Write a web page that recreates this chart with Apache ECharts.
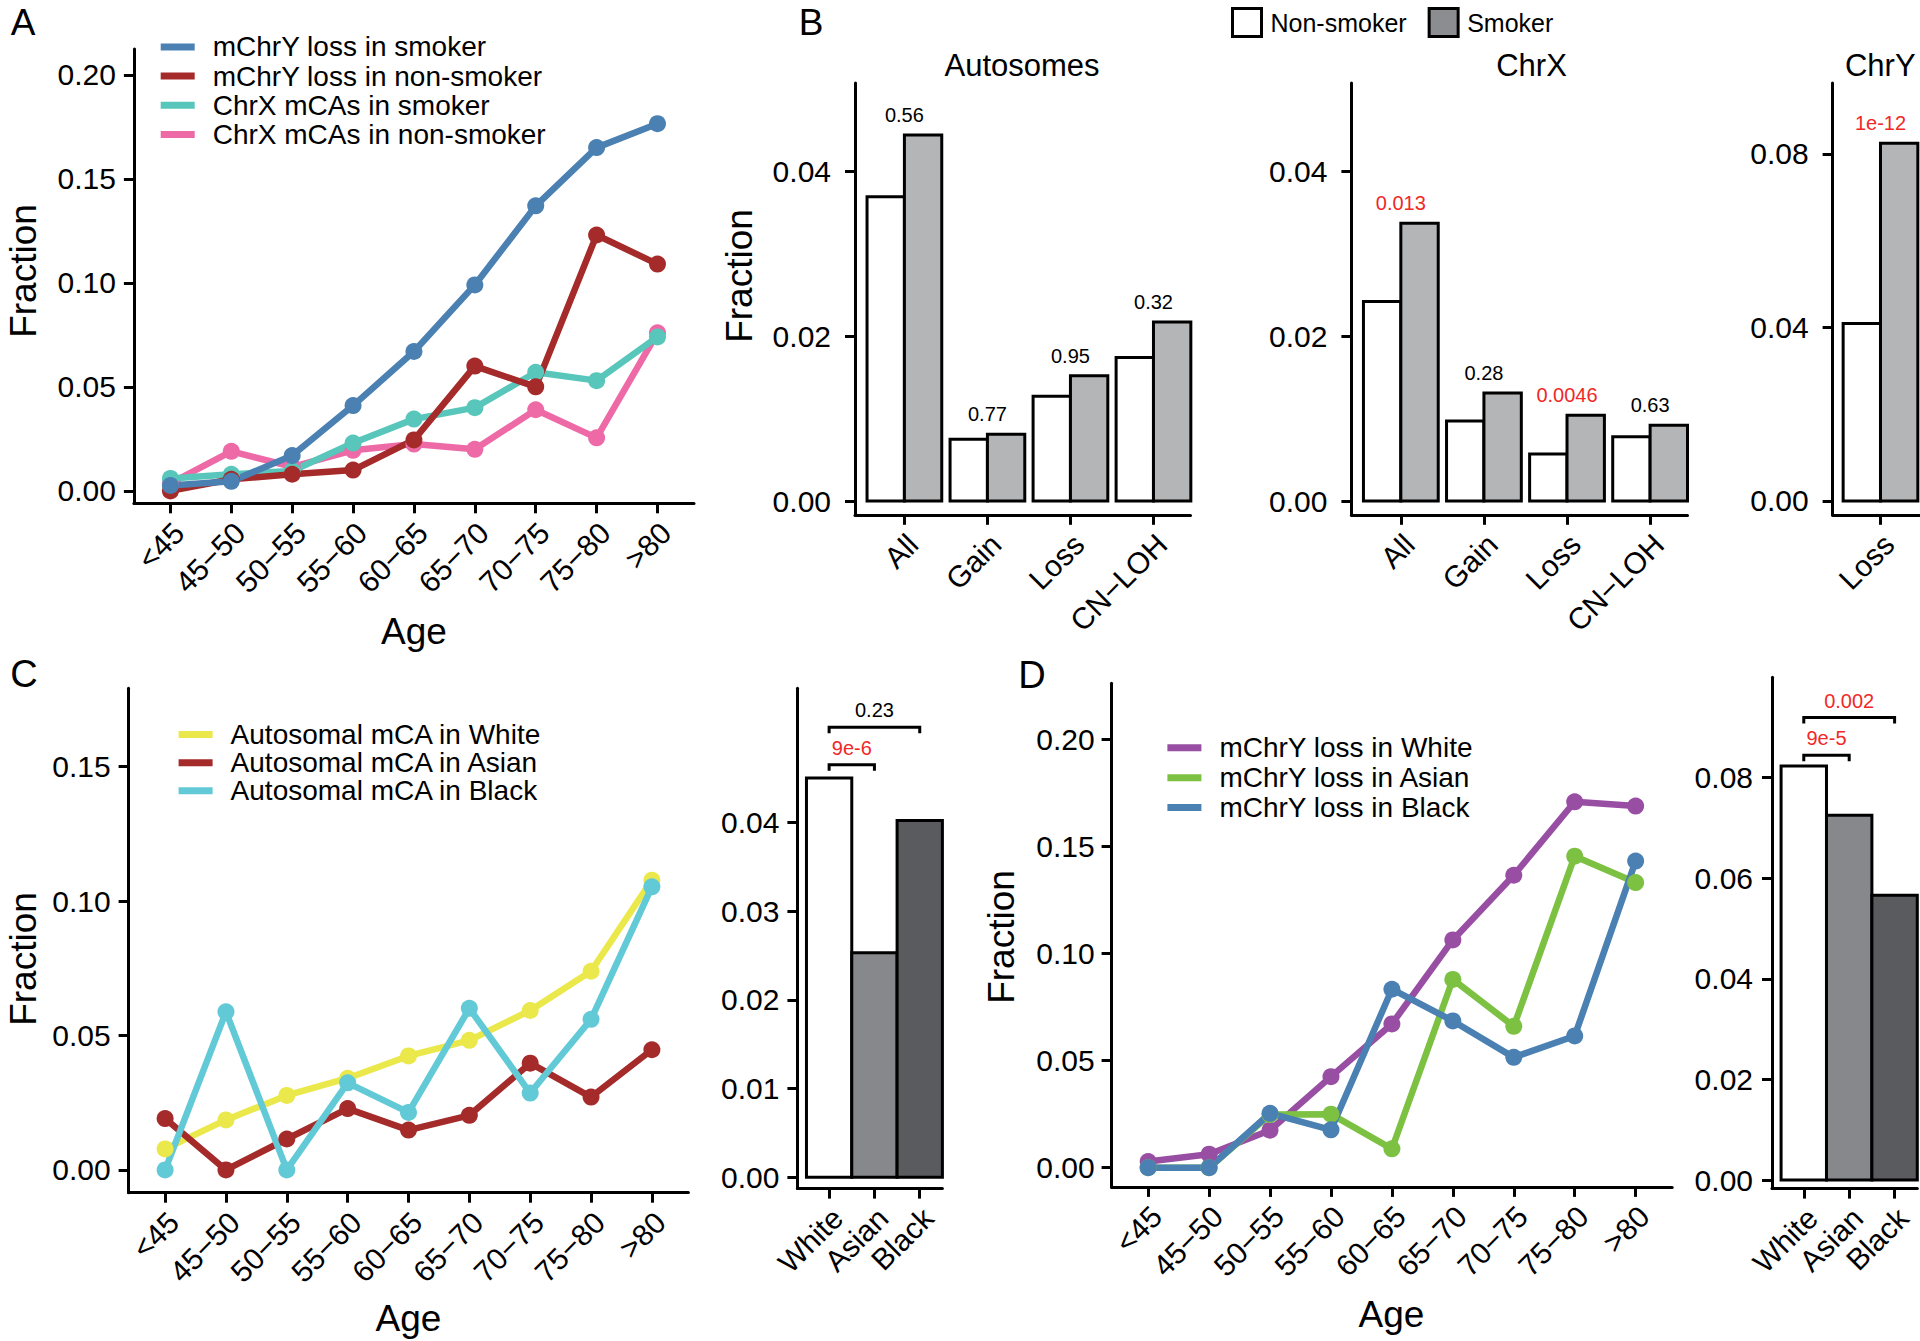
<!DOCTYPE html>
<html><head><meta charset="utf-8"><title>mCA figure</title>
<script src="https://cdn.jsdelivr.net/npm/echarts@6.0.0/dist/echarts.min.js"></script>
<style>html,body{margin:0;padding:0;background:#fff;}#c{width:1920px;height:1341px;}</style>
</head><body><div id="c"></div>
<script>
// ---------------- DATA ----------------
const ageCats = ['<45','45−50','50−55','55−60','60−65','65−70','70−75','75−80','>80'];
// Panel A
const aChrYSmoker    = [0.0026,0.0046,0.0170,0.0410,0.0670,0.0990,0.1370,0.1650,0.1765];
const aChrYNonSmoker = [0.0000,0.0056,0.0080,0.0100,0.0245,0.0600,0.0500,0.1230,0.1090];
const aChrXSmoker    = [0.0060,0.0080,0.0096,0.0230,0.0345,0.0400,0.0570,0.0530,0.0740];
const aChrXNonSmoker = [0.0036,0.0190,0.0116,0.0195,0.0225,0.0200,0.0390,0.0255,0.0760];
const aTicks = [0,0.05,0.10,0.15,0.20];
// Panel B
const bCats = ['All','Gain','Loss','CN−LOH'];
const bAutoNon = [0.0369,0.0075,0.0127,0.0174];
const bAutoSmk = [0.0444,0.0081,0.0152,0.0217];
const bAutoP   = ['0.56','0.77','0.95','0.32'];
const bXNon = [0.0242,0.0097,0.0057,0.0078];
const bXSmk = [0.0337,0.0131,0.0104,0.0092];
const bXP   = ['0.013','0.28','0.0046','0.63'];
const bYCats = ['Loss'];
const bYNon = [0.0409];
const bYSmk = [0.0824];
const bYP   = ['1e-12'];
const bTicks = [0,0.02,0.04];
const bYTicks = [0,0.04,0.08];
// Panel C
const cWhite = [0.0078,0.0186,0.0277,0.0341,0.0424,0.0482,0.0593,0.0739,0.1078];
const cAsian = [0.0191,0.0000,0.0115,0.0228,0.0148,0.0203,0.0397,0.0271,0.0447];
const cBlack = [0.0000,0.0588,0.0000,0.0324,0.0214,0.0601,0.0286,0.0560,0.1053];
const cTicks = [0,0.05,0.10,0.15];
const raceCats = ['White','Asian','Black'];
const cRaceTotals = [0.0450,0.0253,0.0402];
const cBarTicks = [0,0.01,0.02,0.03,0.04];
const cSigPairs = [[0,1],[0,2]];
const cSigLabels = ['9e-6','0.23'];
const cSigHeights = [0.0465,0.0507];
// Panel D
const dWhite = [0.0029,0.0063,0.0175,0.0425,0.0671,0.1063,0.1365,0.1708,0.1688];
const dAsian = [0.0000,0.0000,0.0248,0.0250,0.0088,0.0879,0.0660,0.1454,0.1331];
const dBlack = [0.0000,0.0000,0.0254,0.0177,0.0833,0.0685,0.0515,0.0615,0.1431];
const dTicks = [0,0.05,0.10,0.15,0.20];
const dRaceTotals = [0.0823,0.0725,0.0566];
const dBarTicks = [0,0.02,0.04,0.06,0.08];
const dSigPairs = [[0,1],[0,2]];
const dSigLabels = ['9e-5','0.002'];
const dSigHeights = [0.0844,0.0919];

// ---------------- STYLE ----------------
const FONT = '"Liberation Sans", Arial, Helvetica, sans-serif';
const RED = '#F02828';
const raceFill = ['#FFFFFF','#87888C','#5A5B5E'];
const pColor = p => (Number(p) < 0.05 ? RED : '#000');

const chart = echarts.init(document.getElementById('c'), null, {renderer:'svg', width:1920, height:1341});

const grids = [
  {left:133.9, top:49,    width:560.1, height:454.3}, // A
  {left:855,   top:83,    width:335.5, height:431.8}, // B auto
  {left:1351.4,top:83,    width:336.1, height:431.8}, // B X
  {left:1832.6,top:83,    width:87.4,  height:431.8}, // B Y
  {left:128.6, top:688.2, width:559.8, height:504.5}, // C line
  {left:797.4, top:688.3, width:145,   height:500.3}, // C bar
  {left:1111.6,top:683.3, width:560.6, height:503.6}, // D line
  {left:1772,  top:677.3, width:145.3, height:511.3}  // D bar
].map(g => Object.assign({containLabel:false, outerBoundsMode:'none', show:false}, g));

const axisLineStyle = {color:'#000', width:3};
function xAxisFor(gi, min, max, cats, labelMargin) {
  const idx = cats.map((_, i) => i);
  return {
    type:'value', gridIndex:gi, min, max, scale:true,
    axisLine:{show:true, onZero:false, lineStyle:axisLineStyle},
    axisTick:{show:true, length:10, lineStyle:{color:'#000', width:3}, customValues:idx},
    axisLabel:{show:true, customValues:idx, formatter:v => cats[Math.round(v)],
      rotate:45, align:'right', verticalAlign:'top', margin:labelMargin,
      fontSize:30, lineHeight:24, color:'#000', fontFamily:FONT},
    splitLine:{show:false}
  };
}
function yAxisFor(gi, min, max, ticks, margin) {
  return {
    type:'value', gridIndex:gi, min, max, scale:true,
    axisLine:{show:true, onZero:false, lineStyle:axisLineStyle},
    axisTick:{show:true, length:10, lineStyle:{color:'#000', width:3}, customValues:ticks},
    axisLabel:{show:true, customValues:ticks, formatter:v => v.toFixed(2), margin,
      fontSize:30, color:'#000', fontFamily:FONT},
    splitLine:{show:false}
  };
}

const xAxes = [
  xAxisFor(0, -0.6, 8.6, ageCats, 16),
  xAxisFor(1, -0.595, 3.446, bCats, 16),
  xAxisFor(2, -0.595, 3.45, bCats, 16),
  xAxisFor(3, -0.577, 0.476, bYCats, 16),
  xAxisFor(4, -0.6, 8.6, ageCats, 16),
  xAxisFor(5, -0.7, 2.5, raceCats, 16),
  xAxisFor(6, -0.6, 8.6, ageCats, 16),
  xAxisFor(7, -0.7, 2.5, raceCats, 16)
];
const yAxes = [
  yAxisFor(0, -0.00596, 0.2124, aTicks, 18),
  yAxisFor(1, -0.00167, 0.0507, bTicks, 24),
  yAxisFor(2, -0.00167, 0.0507, bTicks, 24),
  yAxisFor(3, -0.00318, 0.0963, bYTicks, 24),
  yAxisFor(4, -0.00848, 0.1792, cTicks, 18),
  yAxisFor(5, -0.00127, 0.0551, cBarTicks, 18),
  yAxisFor(6, -0.00896, 0.2261, dTicks, 17),
  yAxisFor(7, -0.00169, 0.0999, dBarTicks, 19)
];

function lineSeries(name, gi, vals, color) {
  return {
    type:'line', name, xAxisIndex:gi, yAxisIndex:gi,
    data: vals.map((v, i) => [i, v]),
    symbol:'circle', symbolSize:17, showSymbol:true,
    lineStyle:{width:6.5, color}, itemStyle:{color, borderWidth:0},
    emphasis:{disabled:true}, animation:false, silent:true
  };
}

function pairBars(name, gi, vals, offset, fill, pLabels) {
  return {
    type:'custom', name, xAxisIndex:gi, yAxisIndex:gi,
    itemStyle:{color:fill},
    data: vals.map((v, i) => [i, v]),
    encode:{x:0, y:1},
    renderItem(params, api) {
      const i = params.dataIndex;
      const x = api.value(0), v = api.value(1);
      const tl = api.coord([x + offset - 0.225, v]);
      const br = api.coord([x + offset + 0.225, 0]);
      const children = [{type:'rect',
        shape:{x:tl[0], y:tl[1], width:br[0]-tl[0], height:br[1]-tl[1]},
        style:{fill, stroke:'#000', lineWidth:3}}];
      if (pLabels) {
        const c = api.coord([x, v]);
        children.push({type:'text', x:c[0], y:c[1]-20,
          style:{text:pLabels[i], fill:pColor(pLabels[i]), font:'20px ' + FONT,
                 align:'center', verticalAlign:'middle', textAlign:'center', textVerticalAlign:'middle'}});
      }
      return {type:'group', children};
    },
    animation:false, silent:true
  };
}

function raceBars(gi, vals) {
  return {
    type:'custom', name:'race'+gi, xAxisIndex:gi, yAxisIndex:gi,
    data: vals.map((v, i) => [i, v]),
    encode:{x:0, y:1},
    renderItem(params, api) {
      const i = params.dataIndex;
      const x = api.value(0), v = api.value(1);
      const tl = api.coord([x - 0.5, v]);
      const br = api.coord([x + 0.5, 0]);
      return {type:'rect', shape:{x:tl[0], y:tl[1], width:br[0]-tl[0], height:br[1]-tl[1]},
        style:{fill:raceFill[i], stroke:'#000', lineWidth:3}};
    },
    animation:false, silent:true
  };
}

function sigBrackets(gi, pairs, labels, heights) {
  return {
    type:'custom', name:'sig'+gi, xAxisIndex:gi, yAxisIndex:gi,
    data: pairs.map((p, k) => [p[0], p[1], heights[k]]),
    encode:{x:[0,1], y:2},
    renderItem(params, api) {
      const k = params.dataIndex;
      const a = api.coord([api.value(0), api.value(2)]);
      const b = api.coord([api.value(1), api.value(2)]);
      return {type:'group', children:[
        {type:'polyline', shape:{points:[[a[0], a[1]+6],[a[0], a[1]],[b[0], b[1]],[b[0], b[1]+6]]},
          style:{stroke:'#000', lineWidth:3, fill:null}},
        {type:'text', x:(a[0]+b[0])/2, y:a[1]-17,
          style:{text:labels[k], fill:pColor(labels[k]), font:'20px ' + FONT,
                 align:'center', verticalAlign:'middle', textAlign:'center', textVerticalAlign:'middle'}}
      ]};
    },
    animation:false, silent:true
  };
}

const series = [
  // A (drawn so that blue is on top)
  lineSeries('ChrX mCAs in non-smoker', 0, aChrXNonSmoker, '#EE6AA7'),
  lineSeries('ChrX mCAs in smoker', 0, aChrXSmoker, '#58C6BA'),
  lineSeries('mChrY loss in non-smoker', 0, aChrYNonSmoker, '#A52A2A'),
  lineSeries('mChrY loss in smoker', 0, aChrYSmoker, '#4A80B2'),
  // B
  pairBars('Non-smoker', 1, bAutoNon, -0.225, '#FFFFFF', null),
  pairBars('Smoker', 1, bAutoSmk, 0.225, '#B4B5B7', bAutoP),
  pairBars('Non-smoker', 2, bXNon, -0.225, '#FFFFFF', null),
  pairBars('Smoker', 2, bXSmk, 0.225, '#B4B5B7', bXP),
  pairBars('Non-smoker', 3, bYNon, -0.225, '#FFFFFF', null),
  pairBars('Smoker', 3, bYSmk, 0.225, '#B4B5B7', bYP),
  // C
  lineSeries('Autosomal mCA in White', 4, cWhite, '#EAE84A'),
  lineSeries('Autosomal mCA in Asian', 4, cAsian, '#A52A2A'),
  lineSeries('Autosomal mCA in Black', 4, cBlack, '#62CAD6'),
  raceBars(5, cRaceTotals),
  sigBrackets(5, cSigPairs, cSigLabels, cSigHeights),
  // D
  lineSeries('mChrY loss in White', 6, dWhite, '#984EA3'),
  lineSeries('mChrY loss in Asian', 6, dAsian, '#7DC142'),
  lineSeries('mChrY loss in Black', 6, dBlack, '#4A80B2'),
  raceBars(7, dRaceTotals),
  sigBrackets(7, dSigPairs, dSigLabels, dSigHeights)
];

function lineLegend(left, top, names, lh, gap) {
  return {
    show:true, orient:'vertical', left, top, padding:0, icon:'rect', itemWidth:34, itemHeight:7,
    itemGap:gap, selectedMode:false,
    textStyle:{fontSize:28, lineHeight:lh, color:'#000', fontFamily:FONT, padding:[0,0,0,13]},
    data:names
  };
}
const legends = [
  lineLegend(160.7, 32.9, ['mChrY loss in smoker','mChrY loss in non-smoker','ChrX mCAs in smoker','ChrX mCAs in non-smoker'], 28, 1.2),
  lineLegend(178.6, 720.6, ['Autosomal mCA in White','Autosomal mCA in Asian','Autosomal mCA in Black'], 28, 0.1),
  lineLegend(1167.4, 733.8, ['mChrY loss in White','mChrY loss in Asian','mChrY loss in Black'], 24, 1.9),
  {show:true, orient:'horizontal', left:1231, top:7, padding:0, icon:'rect', itemWidth:29, itemHeight:28,
   itemGap:21, selectedMode:false,
   itemStyle:{borderColor:'#000', borderWidth:3},
   textStyle:{fontSize:25, color:'#000', fontFamily:FONT, padding:[0,0,0,4]},
   data:[{name:'Non-smoker', itemStyle:{color:'#FFFFFF', borderColor:'#000', borderWidth:3}},
         {name:'Smoker', itemStyle:{color:'#8C8D90', borderColor:'#000', borderWidth:3}}]}
];

function txt(text, x, y, size, rot) {
  return {type:'text', x, y, rotation:rot || 0, silent:true,
    style:{text, fill:'#000', font:size + 'px ' + FONT,
      align:'center', verticalAlign:'middle', textAlign:'center', textVerticalAlign:'middle'}};
}
const graphics = [
  txt('A', 23, 22, 37), txt('B', 811, 22, 37), txt('C', 24, 674, 38), txt('D', 1032, 675, 38),
  txt('Autosomes', 1022, 65, 31), txt('ChrX', 1531.5, 65, 31), txt('ChrY', 1880.3, 65, 31),
  txt('Fraction', 23, 271, 37, Math.PI/2), txt('Fraction', 739, 276, 37, Math.PI/2),
  txt('Fraction', 23, 959, 37, Math.PI/2), txt('Fraction', 1001, 937, 37, Math.PI/2),
  txt('Age', 414, 631.5, 37), txt('Age', 408.5, 1318.5, 37), txt('Age', 1391.5, 1314, 37)
];

chart.setOption({
  animation:false,
  backgroundColor:'#FFFFFF',
  grid:grids, xAxis:xAxes, yAxis:yAxes, series, legend:legends,
  graphic:{elements:graphics}
});
</script></body></html>
